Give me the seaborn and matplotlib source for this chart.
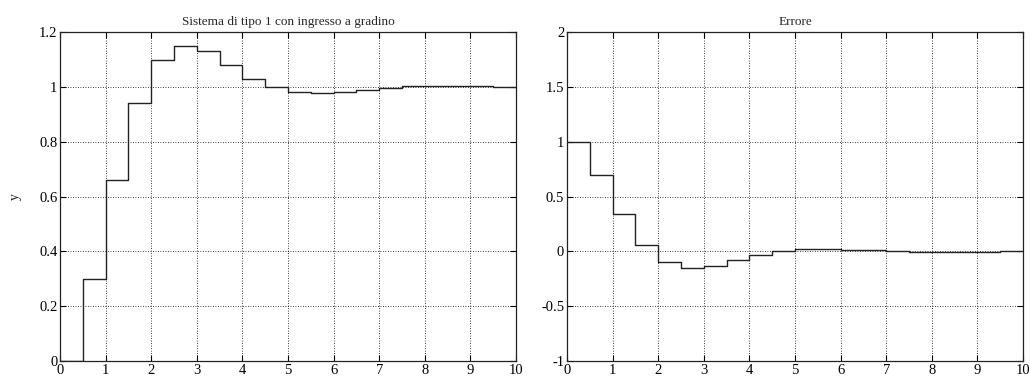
import numpy as np
import pandas as pd
import matplotlib
matplotlib.use("Agg")
import matplotlib.pyplot as plt
import seaborn as sns

t = [0.0, 0.5, 1.0, 1.5, 2.0, 2.5, 3.0, 3.5, 4.0, 4.5, 5.0, 5.5, 6.0, 6.5, 7.0, 7.5, 8.0, 8.5, 9.0, 9.5, 10.0]
y = [0.0, 0.30, 0.66, 0.94, 1.10, 1.15, 1.13, 1.08, 1.03, 0.998, 0.98, 0.977, 0.983, 0.99, 0.997, 1.002, 1.004, 1.004, 1.003, 1.001, 1.0]
err = [1.0, 0.70, 0.34, 0.06, -0.10, -0.15, -0.13, -0.08, -0.03, 0.002, 0.02, 0.023, 0.017, 0.01, 0.003, -0.002, -0.004, -0.004, -0.003, -0.001, 0.0]

title_left = "Sistema di tipo 1 con ingresso a gradino"
title_right = "Errore"
ylabel_left = "y"
xticks = [0, 1, 2, 3, 4, 5, 6, 7, 8, 9, 10]
yticks_left = [0, 0.2, 0.4, 0.6, 0.8, 1.0, 1.2]
yticklabels_left = ["0", "0.2", "0.4", "0.6", "0.8", "1", "1.2"]
yticks_right = [-1, -0.5, 0, 0.5, 1, 1.5, 2]
yticklabels_right = ["-1", "-0.5", "0", "0.5", "1", "1.5", "2"]

sns.set_style("white")
plt.rcParams['font.family'] = ['Liberation Serif', 'DejaVu Serif']

fig = plt.figure(figsize=(10.30, 3.78), dpi=100)
ax1 = fig.add_axes([0.0583, 0.045, 0.4427, 0.870])
ax2 = fig.add_axes([0.5505, 0.045, 0.4427, 0.870])

df1 = pd.DataFrame({"t": t, "v": y})
df2 = pd.DataFrame({"t": t, "v": err})

for ax, df, yt, ytl, ylim, title in [
    (ax1, df1, yticks_left, yticklabels_left, (0, 1.2), title_left),
    (ax2, df2, yticks_right, yticklabels_right, (-1, 2), title_right),
]:
    sns.lineplot(data=df, x="t", y="v", ax=ax, drawstyle="steps-post",
                 color="#222222", linewidth=1.0, zorder=3)
    ax.set_xlim(0, 10)
    ax.set_ylim(*ylim)
    ax.set_xticks(xticks)
    ax.set_xticklabels([str(v) for v in xticks])
    ax.set_yticks(yt)
    ax.set_yticklabels(ytl)
    ax.grid(True, linestyle=(0, (1, 2)), color="black", linewidth=0.6)
    ax.tick_params(direction="in", length=4, width=0.8, labelsize=10.5,
                   top=True, right=True, bottom=True, left=True, pad=2, colors="black")
    for s in ax.spines.values():
        s.set_color("#222222")
        s.set_linewidth(0.9)
    ax.set_title(title, fontsize=9.5, pad=5)
    ax.set_xlabel("")
    ax.set_ylabel("")

ax1.set_ylabel(ylabel_left, fontsize=10, labelpad=12)

fig.savefig("out.png", dpi=100)
